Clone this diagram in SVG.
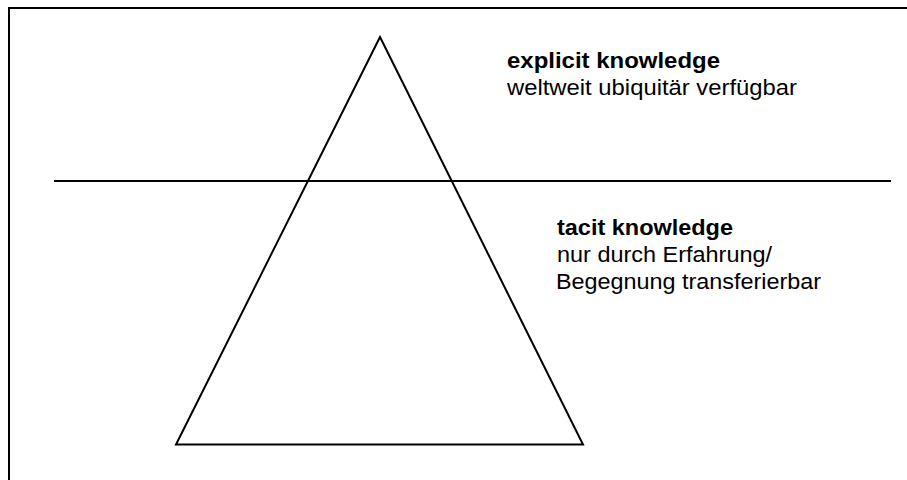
<svg xmlns="http://www.w3.org/2000/svg" width="907" height="480" viewBox="0 0 907 480">
  <style>
    .ln { fill: none; stroke: #000; stroke-width: 2; }
    .t { font-family: "Liberation Sans", Arial, sans-serif; font-size: 22px; fill: #000; }
    .b { font-weight: bold; }
  </style>
  <rect x="0" y="0" width="907" height="480" fill="#fff"/>

  <!-- frame: top and left edges -->
  <g id="frame">
    <polyline class="ln" points="9,480 9,8 907,8"/>
  </g>

  <!-- knowledge pyramid -->
  <g id="pyramid">
    <polygon class="ln" stroke-linejoin="miter" points="380,37 583,444.5 176,444.5"/>
  </g>

  <!-- divider between explicit and tacit -->
  <g id="connectors">
    <line class="ln" x1="54" y1="181" x2="891" y2="181"/>
  </g>

  <g id="explicit">
    <text class="t b" x="507" y="68" textLength="213" lengthAdjust="spacingAndGlyphs">explicit knowledge</text>
    <text class="t" x="507" y="95" textLength="290" lengthAdjust="spacingAndGlyphs">weltweit ubiquitär verfügbar</text>
  </g>

  <g id="tacit">
    <text class="t b" x="557" y="235" textLength="176" lengthAdjust="spacingAndGlyphs">tacit knowledge</text>
    <text class="t" x="557" y="262" textLength="215" lengthAdjust="spacingAndGlyphs">nur durch Erfahrung/</text>
    <text class="t" x="556" y="289" textLength="265" lengthAdjust="spacingAndGlyphs">Begegnung transferierbar</text>
  </g>
</svg>
